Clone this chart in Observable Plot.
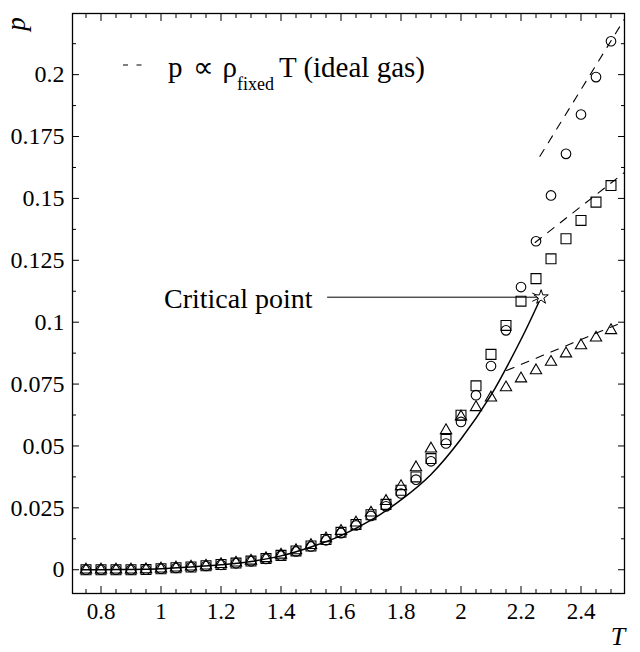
<!DOCTYPE html>
<html><head><meta charset="utf-8">
<script src="https://cdn.jsdelivr.net/npm/d3@7"></script>
<script src="https://cdn.jsdelivr.net/npm/@observablehq/plot@0.6"></script>
<style>body{margin:0;background:#fff} svg{display:block}</style>
</head><body><div id="chart"></div>
<script>
// Temperatures of the simulated state points
const T = [0.75,0.8,0.85,0.9,0.95,1.0,1.05,1.1,1.15,1.2,1.25,1.3,1.35,1.4,1.45,1.5,1.55,1.6,1.65,1.7,1.75,1.8,1.85,1.9,1.95,2.0,2.05,2.1,2.15,2.2,2.25,2.3,2.35,2.4,2.45,2.5];
// pressures (circles / squares / triangles)
const pCircle   = [0,0,0,0,0.0001,0.0004,0.0007,0.0011,0.0015,0.002,0.0026,0.0034,0.0044,0.0057,0.0074,0.0094,0.0119,0.0148,0.0179,0.0217,0.0256,0.0308,0.0364,0.0438,0.051,0.0597,0.0705,0.0823,0.0967,0.1142,0.1327,0.1512,0.168,0.1839,0.199,0.2135];
const pSquare   = [0,0,0,0,0.0001,0.0004,0.0008,0.0011,0.0016,0.0021,0.0027,0.0035,0.0045,0.0058,0.0076,0.0096,0.0122,0.0151,0.0183,0.0222,0.0264,0.0321,0.0375,0.0449,0.0526,0.0624,0.0743,0.087,0.0987,0.1085,0.1176,0.1256,0.1337,0.1411,0.1485,0.1552];
const pTriangle = [0,0,0,0,0.0001,0.0004,0.0008,0.0012,0.0016,0.0022,0.0028,0.0036,0.0046,0.006,0.0078,0.0099,0.0126,0.0156,0.019,0.023,0.0277,0.0337,0.0413,0.0489,0.0563,0.0618,0.0656,0.0695,0.0736,0.0772,0.0805,0.0839,0.0873,0.0906,0.0937,0.0967];

// coexistence curve (solid line)
const curveT = [0.735,0.8,0.9,1.0,1.1,1.2,1.3,1.4,1.5,1.6,1.7,1.8,1.9,2.0,2.1,2.2,2.267];
const curveP = [0,0,0.0001,0.0004,0.0011,0.002,0.0033,0.0056,0.0092,0.0138,0.02,0.0282,0.0385,0.0528,0.0705,0.093,0.1101];

// ideal-gas dashed segments
const idealCircleT = [2.263, 2.545], idealCircleP = [0.167, 0.2225];
const idealSquareT = [2.247, 2.545], idealSquareP = [0.1322, 0.1605];
const idealTriT    = [2.152, 2.545], idealTriP    = [0.0805, 0.1003];

// critical point annotation
const critT = 2.267, critP = 0.1101, critLabelT = 1.555;
const critLabel = "Critical point";

// ticks
const xMajor = [0.8,1,1.2,1.4,1.6,1.8,2,2.2,2.4];
const xTickLabels = ["0.8","1","1.2","1.4","1.6","1.8","2","2.2","2.4"];
const xMinor = [0.75,0.85,0.9,0.95,1.05,1.1,1.15,1.25,1.3,1.35,1.45,1.5,1.55,1.65,1.7,1.75,1.85,1.9,1.95,2.05,2.1,2.15,2.25,2.3,2.35,2.45,2.5];
const yMajor = [0,0.025,0.05,0.075,0.1,0.125,0.15,0.175,0.2];
const yTickLabels = ["0","0.025","0.05","0.075","0.1","0.125","0.15","0.175","0.2"];
const yMinor = [0.0125,0.0375,0.0625,0.0875,0.1125,0.1375,0.1625,0.1875,0.2125];

const rows = T.map((t,i)=>({T:t, circle:pCircle[i], square:pSquare[i], triangle:pTriangle[i]}));
const curveRows = curveT.map((t,i)=>({T:t, p:curveP[i]}));
const seg = (ts, ps, g) => ts.map((t,i)=>({T:t, p:ps[i], g}));
const idealRows = [...seg(idealCircleT, idealCircleP, "c"), ...seg(idealSquareT, idealSquareP, "s"), ...seg(idealTriT, idealTriP, "t")];
const crit = [{T:critT, p:critP, T0:critLabelT}];

const font = "Liberation Serif";
const tickMarks = (anchor, data, size) => {
  const o = {anchor, tickSize:size, fill:"none", stroke:"black", strokeWidth:1, label:null};
  if (anchor === "bottom") o.dy = -size;
  if (anchor === "top") o.dy = size;
  if (anchor === "left") o.dx = size;
  if (anchor === "right") o.dx = -size;
  return (anchor === "bottom" || anchor === "top") ? Plot.axisX(data, o) : Plot.axisY(data, o);
};

const chart = Plot.plot({
  width: 640, height: 652,
  marginLeft: 72, marginRight: 16, marginTop: 13, marginBottom: 59,
  x: {domain: [0.705, 2.545]},
  y: {domain: [-0.0096, 0.2247]},
  style: {fontFamily: font, background: "white", color: "black"},
  marks: [
    tickMarks("bottom", xMajor, 7), tickMarks("bottom", xMinor, 4),
    tickMarks("top", xMajor, 7), tickMarks("top", xMinor, 4),
    tickMarks("left", yMajor, 7), tickMarks("left", yMinor, 4),
    tickMarks("right", yMajor, 7), tickMarks("right", yMinor, 4),
    Plot.axisX(xMajor, {anchor:"bottom", tickSize:0, tickPadding:9, fontSize:23, fill:"black",
      tickFormat: d => xTickLabels[xMajor.indexOf(d)], label:null}),
    Plot.axisY(yMajor, {anchor:"left", tickSize:0, tickPadding:8, fontSize:24, fill:"black",
      tickFormat: d => yTickLabels[yMajor.indexOf(d)], label:null}),
    Plot.frame({stroke:"black", strokeWidth:1.3}),
    Plot.line(curveRows, {x:"T", y:"p", curve:"catmull-rom", stroke:"black", strokeWidth:1.5}),
    Plot.line(idealRows, {x:"T", y:"p", z:"g", stroke:"black", strokeWidth:1.1, strokeDasharray:"8,8"}),
    Plot.dot(rows, {x:"T", y:"square", symbol:"square", r:5.6, stroke:"black", fill:"none", strokeWidth:1.1}),
    Plot.dot(rows, {x:"T", y:"circle", symbol:"circle", r:4.8, stroke:"black", fill:"none", strokeWidth:1.1}),
    Plot.dot(rows, {x:"T", y:"triangle", symbol:"triangle", r:4.2, stroke:"black", fill:"none", strokeWidth:1.1}),
    Plot.arrow(crit, {x1:"T0", y1:"p", x2:"T", y2:"p", headLength:14, headAngle:50, stroke:"black", strokeWidth:1}),
    Plot.dot(crit, {x:"T", y:"p", symbol:"star", r:4.5, stroke:"black", fill:"white", strokeWidth:1}),
    Plot.text(crit, {x:"T0", y:"p", text:()=>critLabel, textAnchor:"end", dx:-15, dy:2, fontSize:28, fill:"black"})
  ]
});
document.getElementById("chart").append(chart);

const svg = d3.select(chart);
// axis titles
svg.append("text").attr("transform", "translate(25,24) rotate(-90)").attr("text-anchor", "middle")
  .attr("font-family", font).attr("font-style", "italic").attr("font-size", 27).attr("fill", "black").text("p");
svg.append("text").attr("x", 618).attr("y", 645).attr("text-anchor", "middle")
  .attr("font-family", font).attr("font-style", "italic").attr("font-size", 26).attr("fill", "black").text("T");

// legend (top-left, inside frame)
const lg = svg.append("g").attr("fill", "black").attr("font-family", font);
lg.append("line").attr("x1", 123).attr("x2", 143).attr("y1", 65).attr("y2", 65)
  .attr("stroke", "black").attr("stroke-width", 1.1).attr("stroke-dasharray", "5,8.5");
const lt = lg.append("text").attr("x", 168).attr("y", 77).attr("font-size", 29).attr("text-anchor", "start");
lt.append("tspan").text("p");
lt.append("tspan").attr("dx", 10).text("∝");
lt.append("tspan").attr("dx", 9).text("ρ");
lt.append("tspan").attr("font-size", 18).attr("dy", 13).text("fixed");
lt.append("tspan").attr("dy", -13).attr("dx", 5).text("T (ideal gas)");
</script></body></html>
